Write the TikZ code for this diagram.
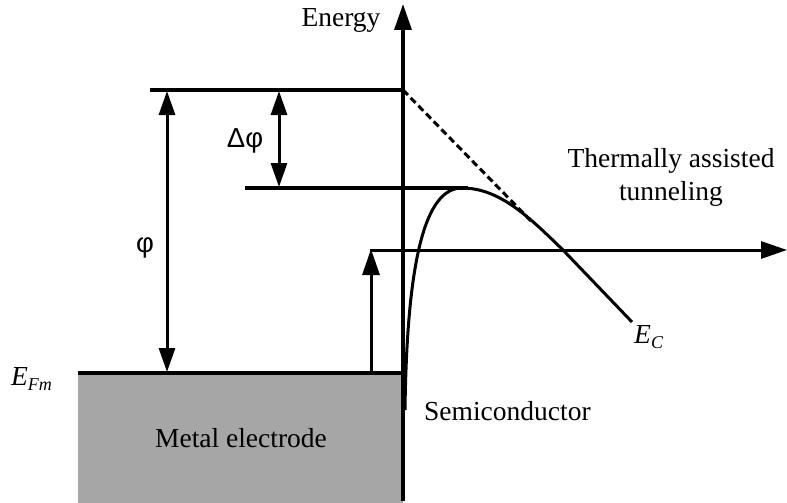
\documentclass[tikz,border=0pt]{standalone}
\usepackage{fontspec}
\setmainfont{Liberation Serif}
\newfontfamily\symsans{Liberation Sans}
\usetikzlibrary{arrows.meta}
\definecolor{metalgray}{HTML}{A6A6A6}
\begin{document}
\begin{tikzpicture}[x=1pt,y=-1pt,
  thick line/.style={line width=3.4pt},
  curve line/.style={line width=3pt},
  arrow line/.style={line width=3pt},
  bigtip/.style={-{Triangle[length=26pt,width=17pt]}},
  twotip/.style={{Triangle[length=24pt,width=16pt]}-{Triangle[length=24pt,width=16pt]}},
  lbl/.style={inner sep=0pt, font=\fontsize{27.5}{33}\selectfont},
  symlbl/.style={inner sep=0pt, font=\symsans\fontsize{27.5}{33}\selectfont}]
\useasboundingbox (0,0) rectangle (787,503);

% metal electrode
\node[fill=metalgray, draw=none, inner sep=0pt, anchor=north west,
      minimum width=325pt, minimum height=130pt] (metal) at (78,373) {};
\node[lbl, anchor=base] (metaltxt) at (241,447) {Metal electrode};

% coordinates
\coordinate (axB) at (403,501);
\coordinate (axT) at (403,4);
\coordinate (topL) at (150,90);
\coordinate (topR) at (403,90);
\coordinate (barL) at (245,188);
\coordinate (barR) at (468,188);
\coordinate (efL) at (78,373);
\coordinate (efR) at (403,373);
\coordinate (phiT) at (167,91);
\coordinate (phiB) at (167,372);
\coordinate (dphiT) at (279,91);
\coordinate (dphiB) at (279,187);
\coordinate (smB) at (371,373);
\coordinate (smT) at (371,249);
\coordinate (hL) at (370,250);
\coordinate (hR) at (787,250);
\coordinate (dashE) at (532,222);
\coordinate (c0) at (405,410);
\coordinate (cPeak) at (462,188);
\coordinate (cMid) at (563,250);
\coordinate (cEnd) at (632,322);

% lines
\draw[thick line] (efL) -- (efR);
\draw[thick line] (topL) -- (topR);
\draw[thick line] (barL) -- (barR);
\draw[thick line, bigtip] (axB) -- (axT);
\draw[arrow line, twotip] (phiB) -- (phiT);
\draw[arrow line, twotip] (dphiB) -- (dphiT);
\draw[arrow line, bigtip] (smB) -- (smT);
\draw[arrow line, bigtip] (hL) -- (hR);
\draw[arrow line, dash pattern=on 7pt off 4pt] (topR) -- (dashE);

% conduction band edge
\draw[curve line] (c0) .. controls (407,260) and (425,188) .. (cPeak)
   .. controls (500,188) and (530,218) .. (cMid) -- (cEnd);

% labels
\node[lbl, anchor=base] (energy) at (341,27) {Energy};
\node[lbl, align=center, anchor=base] (tat) at (671,200) {Thermally assisted\\tunneling};
\node[lbl, anchor=base west] (semi) at (424,420) {Semiconductor};
\node[lbl, anchor=base west] (ec) at (634,343) {\textit{E}\raisebox{-5pt}{\fontsize{18}{20}\selectfont\textit{C}}};
\node[lbl, anchor=base west] (efm) at (11,385) {\textit{E}\raisebox{-5pt}{\fontsize{18}{20}\selectfont\textit{Fm}}};
\node[symlbl, anchor=base] (dphi) at (245,147) {Δφ};
\node[symlbl, anchor=base] (phi) at (145,252) {φ};
\end{tikzpicture}
\end{document}
